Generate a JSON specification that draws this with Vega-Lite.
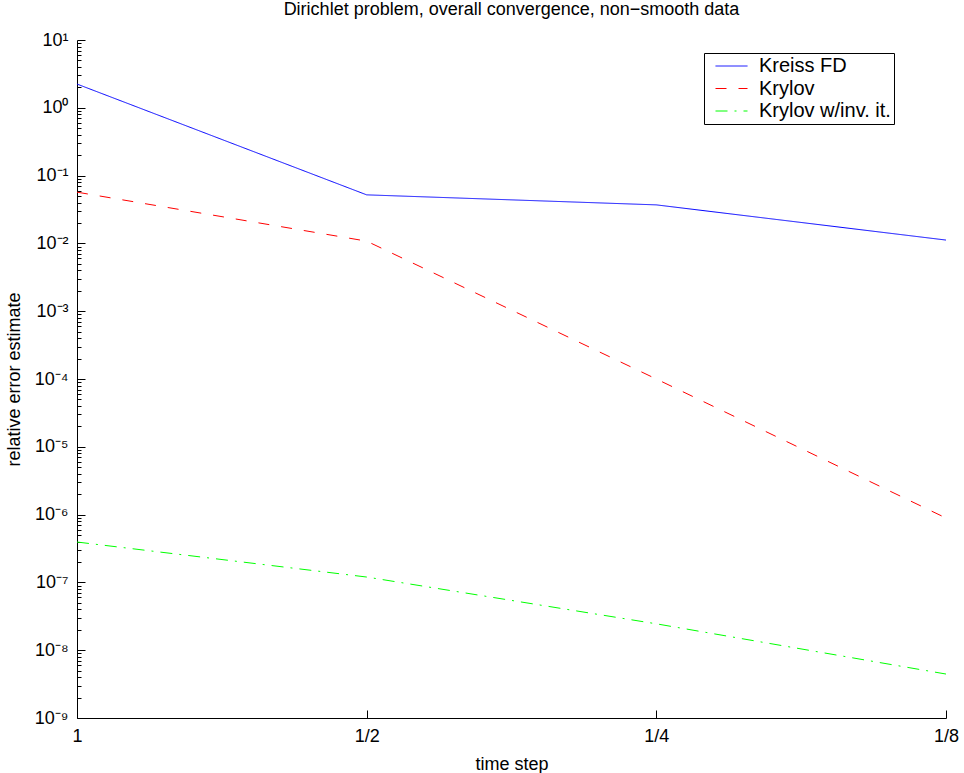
{
  "$schema": "https://vega.github.io/schema/vega-lite/v6.json",
  "width": 869,
  "height": 678,
  "autosize": "none",
  "padding": {"left": 77, "top": 40, "right": 18, "bottom": 55},
  "background": "white",
  "title": {
    "text": "Dirichlet problem, overall convergence, non−smooth data",
    "font": "Liberation Sans",
    "fontSize": 18,
    "fontWeight": "normal",
    "color": "black",
    "anchor": "middle",
    "offset": 12
  },
  "data": {
    "values": [
      {"step": "1", "method": "Kreiss FD", "error": 2.24},
      {"step": "1/2", "method": "Kreiss FD", "error": 0.052},
      {"step": "1/4", "method": "Kreiss FD", "error": 0.037},
      {"step": "1/8", "method": "Kreiss FD", "error": 0.0112},
      {"step": "1", "method": "Krylov", "error": 0.057},
      {"step": "1/2", "method": "Krylov", "error": 0.0108},
      {"step": "1/4", "method": "Krylov", "error": 0.0001},
      {"step": "1/8", "method": "Krylov", "error": 8.9e-7},
      {"step": "1", "method": "Krylov w/inv. it.", "error": 3.94e-7},
      {"step": "1/2", "method": "Krylov w/inv. it.", "error": 1.2e-7},
      {"step": "1/4", "method": "Krylov w/inv. it.", "error": 2.45e-8},
      {"step": "1/8", "method": "Krylov w/inv. it.", "error": 4.45e-9}
    ]
  },
  "layer": [
    {
      "mark": {"type": "line", "strokeWidth": 1},
      "encoding": {
        "x": {
          "field": "step",
          "type": "ordinal",
          "sort": ["1", "1/2", "1/4", "1/8"],
          "scale": {"type": "point", "padding": 0},
          "axis": {
            "title": "time step",
            "labelAngle": 0,
            "tickSize": -8,
            "labelPadding": 17,
            "titleY": 51,
            "titleBaseline": "alphabetic"
          }
        },
        "y": {
          "field": "error",
          "type": "quantitative",
          "scale": {"type": "log", "domain": [1e-9, 10], "nice": false},
          "axis": {
            "title": "relative error estimate",
            "orient": "left",
            "values": [1e-9, 1e-8, 1e-7, 1e-6, 1e-5, 1e-4, 1e-3, 1e-2, 1e-1, 1, 10],
            "labelExpr": "['10⁻⁹','10⁻⁸','10⁻⁷','10⁻⁶','10⁻⁵','10⁻⁴','10⁻³','10⁻²','10⁻¹','10⁰','10¹'][round(log(datum.value)/LN10)+9]",
            "tickSize": -8,
            "labelPadding": 17,
            "titleAngle": 270,
            "titleX": -63,
            "titleY": 339,
            "titleAlign": "center",
            "titleBaseline": "middle"
          }
        },
        "color": {
          "field": "method",
          "type": "nominal",
          "scale": {
            "domain": ["Kreiss FD", "Krylov", "Krylov w/inv. it."],
            "range": ["#0000ff", "#ff0000", "#00ff00"]
          },
          "legend": {"title": null}
        },
        "strokeDash": {
          "field": "method",
          "type": "nominal",
          "scale": {
            "domain": ["Kreiss FD", "Krylov", "Krylov w/inv. it."],
            "range": [[1, 0], [11, 12], [12, 7, 2, 7]]
          },
          "legend": {"title": null}
        }
      }
    },
    {
      "mark": {"type": "point", "opacity": 0},
      "encoding": {
        "y": {
          "field": "error",
          "type": "quantitative",
          "axis": {
            "orient": "left",
            "title": null,
            "labels": false,
            "domain": false,
            "tickSize": -4,
            "values": [2e-9,3e-9,4e-9,5e-9,6e-9,7e-9,8e-9,9e-9,
                       2e-8,3e-8,4e-8,5e-8,6e-8,7e-8,8e-8,9e-8,
                       2e-7,3e-7,4e-7,5e-7,6e-7,7e-7,8e-7,9e-7,
                       2e-6,3e-6,4e-6,5e-6,6e-6,7e-6,8e-6,9e-6,
                       2e-5,3e-5,4e-5,5e-5,6e-5,7e-5,8e-5,9e-5,
                       0.0002,0.0003,0.0004,0.0005,0.0006,0.0007,0.0008,0.0009,
                       0.002,0.003,0.004,0.005,0.006,0.007,0.008,0.009,
                       0.02,0.03,0.04,0.05,0.06,0.07,0.08,0.09,
                       0.2,0.3,0.4,0.5,0.6,0.7,0.8,0.9,
                       2,3,4,5,6,7,8,9]
          }
        }
      }
    }
  ],
  "resolve": {"axis": {"y": "independent"}},
  "config": {
    "view": {"stroke": null},
    "font": "Liberation Sans",
    "axis": {
      "grid": false,
      "domainColor": "black",
      "domainWidth": 1,
      "tickColor": "black",
      "tickWidth": 1,
      "labelFont": "Liberation Sans",
      "labelFontSize": 18,
      "labelColor": "black",
      "titleFont": "Liberation Sans",
      "titleFontSize": 18,
      "titleFontWeight": "normal",
      "titleColor": "black"
    },
    "legend": {
      "orient": "none",
      "legendX": 627,
      "legendY": 13,
      "strokeColor": "black",
      "fillColor": "white",
      "padding": 3,
      "clipHeight": 20,
      "symbolType": "stroke",
      "symbolSize": 1024,
      "symbolStrokeWidth": 1,
      "symbolOffset": 8,
      "labelOffset": 11,
      "rowPadding": 2.5,
      "labelFont": "Liberation Sans",
      "labelFontSize": 20,
      "labelColor": "black",
      "labelLimit": 300
    }
  }
}
